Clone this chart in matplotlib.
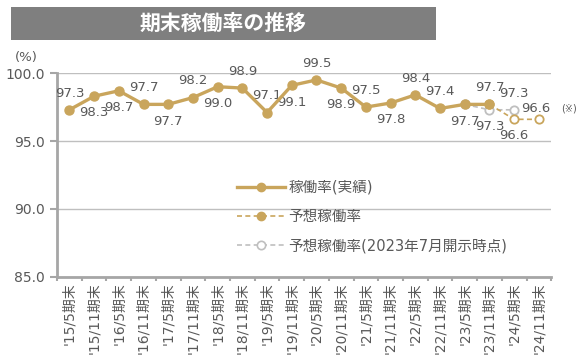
import numpy as np
import matplotlib
matplotlib.use("Agg")
import matplotlib.pyplot as plt
from matplotlib.lines import Line2D
from matplotlib.patches import Rectangle

plt.rcParams['font.family'] = ['DejaVu Sans', 'Noto Sans CJK JP']

periods = ["'15/5期末", "'15/11期末", "'16/5期末", "'16/11期末", "'17/5期末",
           "'17/11期末", "'18/5期末", "'18/11期末", "'19/5期末", "'19/11期末",
           "'20/5期末", "'20/11期末", "'21/5期末", "'21/11期末", "'22/5期末",
           "'22/11期末", "'23/5期末", "'23/11期末", "'24/5期末", "'24/11期末"]

# actual occupancy, '15/5 .. '23/11
actual = [97.3, 98.3, 98.7, 97.7, 97.7, 98.2, 99.0, 98.9, 97.1, 99.1,
          99.5, 98.9, 97.5, 97.8, 98.4, 97.4, 97.7, 97.7]
# label side for actual: 1 = above, -1 = below
actual_side = [1, -1, -1, 1, -1, 1, -1, 1, 1, -1,
               1, -1, 1, -1, 1, 1, -1, 1]

# forecast (starts from last actual '23/11)
forecast_idx = [17, 18, 19]
forecast = [97.7, 96.6, 96.6]

# forecast as of July 2023 disclosure (starts from '23/5 actual)
old_idx = [16, 17, 18]
old_forecast = [97.7, 97.3, 97.3]

gold = '#C9A55C'
lgray = '#BFBFBF'
txt = '#595959'

fig = plt.figure(figsize=(5.76, 3.55), dpi=100)
ax = fig.add_axes([0.099, 0.220, 0.858, 0.574])

x_act = np.arange(len(actual))

ax.plot(old_idx, old_forecast, color=lgray, lw=1.2, ls=(0, (3, 2)),
        marker='o', ms=6, mfc='white', mec=lgray, mew=1.3, zorder=3)
ax.plot(forecast_idx, forecast, color=gold, lw=1.2, ls=(0, (3, 2)),
        marker='o', ms=6, mfc='white', mec=gold, mew=1.3, zorder=3)
ax.plot(x_act, actual, color=gold, lw=2.4, marker='o', ms=6.5,
        mfc=gold, mec=gold, zorder=4)

for i, (v, s) in enumerate(zip(actual, actual_side)):
    ax.annotate(f"{v:.1f}", (i, v), xytext=(0, 12 * s), textcoords='offset points',
                ha='center', va='center', fontsize=9.5, color=txt)

# July-2023 forecast labels
ax.annotate(f"{old_forecast[1]:.1f}", (old_idx[1], old_forecast[1]), xytext=(0, -12),
            textcoords='offset points', ha='center', va='center', fontsize=9.5, color=txt)
ax.annotate(f"{old_forecast[2]:.1f}", (old_idx[2], old_forecast[2]), xytext=(0, 12),
            textcoords='offset points', ha='center', va='center', fontsize=9.5, color=txt)
# current forecast labels
ax.annotate(f"{forecast[1]:.1f}", (forecast_idx[1], forecast[1]), xytext=(0, -12),
            textcoords='offset points', ha='center', va='center', fontsize=9.5, color=txt)
ax.annotate(f"{forecast[2]:.1f}", (forecast_idx[2], forecast[2]), xytext=(-2, 8),
            textcoords='offset points', ha='center', va='center', fontsize=9.5, color=txt)
ax.annotate("(※)", (forecast_idx[2], forecast[2]), xytext=(22, 8),
            textcoords='offset points', ha='center', va='center', fontsize=7, color=txt)

ax.set_xlim(-0.5, len(periods) - 0.5)
ax.set_ylim(85, 100)
ax.set_yticks([85, 90, 95, 100])
ax.set_yticklabels([f"{t:.1f}" for t in [85, 90, 95, 100]])
ax.set_xticks(np.arange(len(periods)))
ax.set_xticklabels(periods, rotation=90, fontsize=10, color=txt)
ax.set_xticks(np.arange(len(periods) + 1) - 0.5, minor=True)
ax.tick_params(axis='x', which='major', length=0, pad=4)
ax.tick_params(axis='x', which='minor', length=3, width=1.5, color='#A6A6A6')
ax.tick_params(axis='y', length=5, width=1.5, color='#A6A6A6', labelsize=10,
               labelcolor=txt, pad=4)

ax.grid(axis='y', color=lgray, lw=1.0)
ax.set_axisbelow(True)
for side in ['top', 'right']:
    ax.spines[side].set_visible(False)
for side in ['left', 'bottom']:
    ax.spines[side].set_color('#A6A6A6')
    ax.spines[side].set_linewidth(2)

handles = [
    Line2D([], [], color=gold, lw=2.4, marker='o', ms=6, mfc=gold, mec=gold),
    Line2D([], [], color=gold, lw=1.2, ls=(0, (3, 2)), marker='o', ms=6, mfc=gold, mec=gold),
    Line2D([], [], color=lgray, lw=1.2, ls=(0, (3, 2)), marker='o', ms=6, mfc='white',
           mec=lgray, mew=1.2),
]
labels = ['稼働率(実績)', '予想稼働率', '予想稼働率(2023年7月開示時点)']
leg = fig.legend(handles, labels, loc='upper left', bbox_to_anchor=(0.388, 0.530),
                 frameon=False, fontsize=10.5, handlelength=3.3, labelspacing=0.98,
                 handletextpad=0.25)
for t in leg.get_texts():
    t.set_color(txt)

fig.text(0.026, 0.838, "(%)", fontsize=9.5, color=txt, va='center', ha='left')

# title banner
fig.patches.append(Rectangle((0.019, 0.887), 0.738, 0.093, transform=fig.transFigure,
                             facecolor='#7F7F7F', edgecolor='none'))
fig.text(0.387, 0.933, "期末稼働率の推移", fontsize=15, fontweight='bold', color='white',
         ha='center', va='center', family=['Noto Sans CJK JP'])

fig.savefig('out.png', dpi=100)
